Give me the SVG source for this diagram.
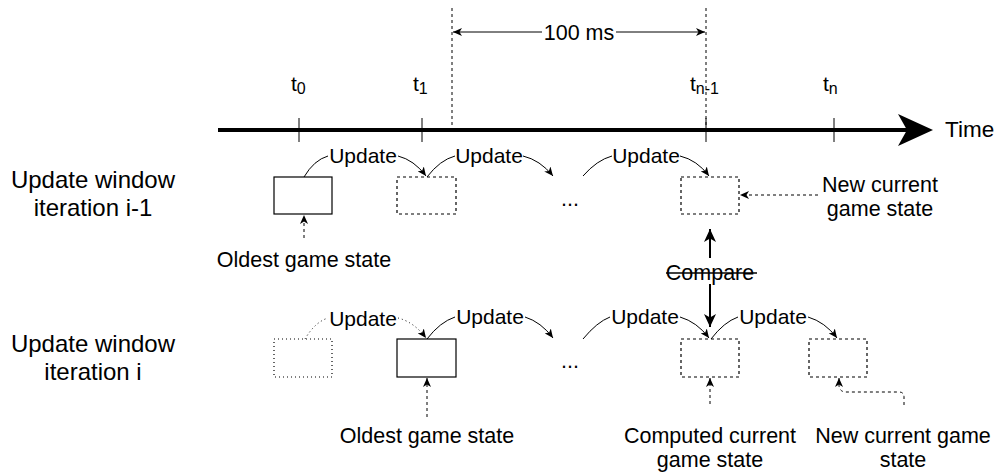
<svg xmlns="http://www.w3.org/2000/svg" width="1000" height="473" viewBox="0 0 1000 473">
<style>
text{font-family:"Liberation Sans",Arial,Helvetica,sans-serif;fill:#000}
.lbl{font-size:21.5px;text-anchor:middle}
.upd{font-size:21px;text-anchor:middle}
.big{font-size:24px;text-anchor:middle}
.t{font-size:21px}
.sub{font-size:16px}
.box{fill:#fff;stroke:#000;stroke-width:1.2}
.dash{stroke-dasharray:3,3}
.dot{stroke-dasharray:1,3}
.ln{fill:none;stroke:#000;stroke-width:1}
.arr{marker-end:url(#a)}
</style>
<defs>
<marker id="a" markerUnits="userSpaceOnUse" markerWidth="10" markerHeight="8" refX="9" refY="4" orient="auto">
<path d="M0,0 L9,4 L0,8 L2.5,4 Z" fill="#000"/>
</marker>
<marker id="b" markerUnits="userSpaceOnUse" markerWidth="14" markerHeight="12" refX="13" refY="6" orient="auto">
<path d="M0,0 L13,6 L0,12 L3.5,6 Z" fill="#000"/>
</marker>
</defs>

<g id="labels-left">
<text class="big" x="93" y="188">Update window</text>
<text class="big" x="93" y="216">iteration i-1</text>
<text class="big" x="93" y="352">Update window</text>
<text class="big" x="93" y="380">iteration i</text>
</g>

<g id="timeline">
<line x1="218" y1="130" x2="910" y2="130" stroke="#000" stroke-width="4"/>
<polygon points="933,130 898,146 907,130 898,114" fill="#000"/>
<text x="945" y="137" style="font-size:22.5px">Time</text>
<line class="ln" x1="299" y1="118" x2="299" y2="142"/>
<line class="ln" x1="422" y1="118" x2="422" y2="142"/>
<line class="ln" x1="706" y1="118" x2="706" y2="142"/>
<line class="ln" x1="834" y1="118" x2="834" y2="142"/>
<text x="291" y="91" class="t">t<tspan class="sub" dy="3">0</tspan></text>
<text x="413" y="91" class="t">t<tspan class="sub" dy="3">1</tspan></text>
<text x="690" y="91" class="t">t<tspan class="sub" dy="3">n-1</tspan></text>
<text x="823" y="91" class="t">t<tspan class="sub" dy="3">n</tspan></text>
</g>

<g id="interval">
<line class="ln dash" x1="452" y1="8" x2="452" y2="130"/>
<line class="ln dash" x1="706" y1="8" x2="706" y2="130"/>
<line class="ln arr" x1="542" y1="32" x2="453" y2="32"/>
<line class="ln arr" x1="616" y1="32" x2="705" y2="32"/>
<text class="lbl" x="579" y="40">100 ms</text>
</g>

<g id="row1-state0"><rect class="box" x="274" y="177" width="58" height="37"/></g>
<g id="row1-state1"><rect class="box dash" x="397" y="177" width="59" height="37"/></g>
<g id="row1-ellipsis"><text class="lbl" x="570" y="206">...</text></g>
<g id="row1-staten1"><rect class="box dash" x="681" y="177" width="58" height="37"/></g>
<g id="row1-oldest"><text class="lbl" x="304" y="267">Oldest game state</text></g>
<g id="row1-new"><text class="lbl" x="880" y="192">New current</text><text class="lbl" x="880" y="216">game state</text></g>

<g id="row2-state0"><rect class="box dot" x="274" y="339" width="58" height="38"/></g>
<g id="row2-state1"><rect class="box" x="397" y="339" width="59" height="38" stroke="#333"/></g>
<g id="row2-ellipsis"><text class="lbl" x="570" y="368">...</text></g>
<g id="row2-staten1"><rect class="box dash" x="681" y="339" width="58" height="38" stroke="#333"/></g>
<g id="row2-staten"><rect class="box dash" x="809" y="339" width="58" height="38" stroke="#333"/></g>
<g id="row2-oldest"><text class="lbl" x="427" y="443">Oldest game state</text></g>
<g id="row2-computed"><text class="lbl" x="710" y="443">Computed current</text><text class="lbl" x="710" y="467">game state</text></g>
<g id="row2-new"><text class="lbl" x="903" y="443">New current game</text><text class="lbl" x="903" y="467">state</text></g>

<g id="compare">
<text class="lbl" x="710" y="280">Compare</text>
<line x1="666" y1="273" x2="757" y2="273" stroke="#000" stroke-width="1.5"/>
</g>

<g id="connectors">
<!-- row 1 updates -->
<path class="ln" d="M304,177 Q314,160 328,156"/>
<text class="upd" x="363" y="163">Update</text>
<path class="ln arr" d="M398,156 Q414,160 426,176"/>
<path class="ln" d="M427,177 Q440,160 455,156"/>
<text class="upd" x="489" y="163">Update</text>
<path class="ln arr" d="M523,156 Q540,160 553,176"/>
<path class="ln" d="M583,176 Q597,160 612,156"/>
<text class="upd" x="646" y="163">Update</text>
<path class="ln arr" d="M680,156 Q697,160 709,176"/>
<!-- row 2 updates -->
<path class="ln dot" d="M305,339 Q315,322 328,318"/>
<text class="upd" x="363" y="326">Update</text>
<path class="ln dot arr" d="M398,318 Q414,322 426,338"/>
<path class="ln" d="M427,339 Q440,322 455,317"/>
<text class="upd" x="490" y="324">Update</text>
<path class="ln arr" d="M525,317 Q541,322 553,338"/>
<path class="ln" d="M583,339 Q597,322 610,317"/>
<text class="upd" x="645" y="324">Update</text>
<path class="ln arr" d="M680,317 Q697,322 709,338"/>
<path class="ln" d="M711,339 Q724,322 738,317"/>
<text class="upd" x="773" y="324">Update</text>
<path class="ln arr" d="M808,317 Q825,322 837,338"/>
<!-- annotations -->
<line class="ln dash arr" x1="304" y1="238" x2="304" y2="215"/>
<line class="ln dash arr" x1="818" y1="195" x2="740" y2="195"/>
<line class="ln dash arr" x1="427" y1="417" x2="427" y2="378"/>
<line class="ln dash arr" x1="710" y1="404" x2="710" y2="378"/>
<path class="ln dash arr" d="M904,405 L904,397 Q904,392 899,392 L846,392 Q840,392 839,386 L839,378"/>
<!-- compare arrows -->
<line x1="710" y1="258" x2="710" y2="229" stroke="#000" stroke-width="2" marker-end="url(#b)"/>
<line x1="710" y1="284" x2="710" y2="327" stroke="#000" stroke-width="2" marker-end="url(#b)"/>
</g>
</svg>
